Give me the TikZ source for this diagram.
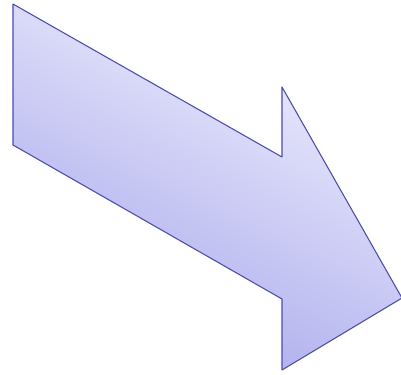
\documentclass[tikz,border=0pt]{standalone}
\usepackage{tikz}
\definecolor{arrowedge}{HTML}{4C4CAE}
\definecolor{arrowlight}{HTML}{F0F0FE}
\definecolor{arrowmid}{HTML}{DADAFA}
\definecolor{arrowdark}{HTML}{A8A8EC}

\begin{document}
\begin{tikzpicture}[
  x=0.75pt, y=-0.75pt,
  bigarrow/.style={draw=arrowedge, line width=0.8pt, line join=round,
    top color=arrowlight, middle color=arrowmid, bottom color=arrowdark, shading angle=-27}
]
\useasboundingbox (0,0) rectangle (401,375);
% the arrow
\coordinate (tl) at (13,4);
\coordinate (bl) at (13,145);
\coordinate (sbr) at (282,299);
\coordinate (hb) at (282,370);
\coordinate (tip) at (402,298);
\coordinate (ht) at (282,87);
\coordinate (str) at (282,157);
\path[bigarrow] (tl) -- (str) -- (ht) -- (tip) -- (hb) -- (sbr) -- (bl) -- cycle;
\end{tikzpicture}
\end{document}
